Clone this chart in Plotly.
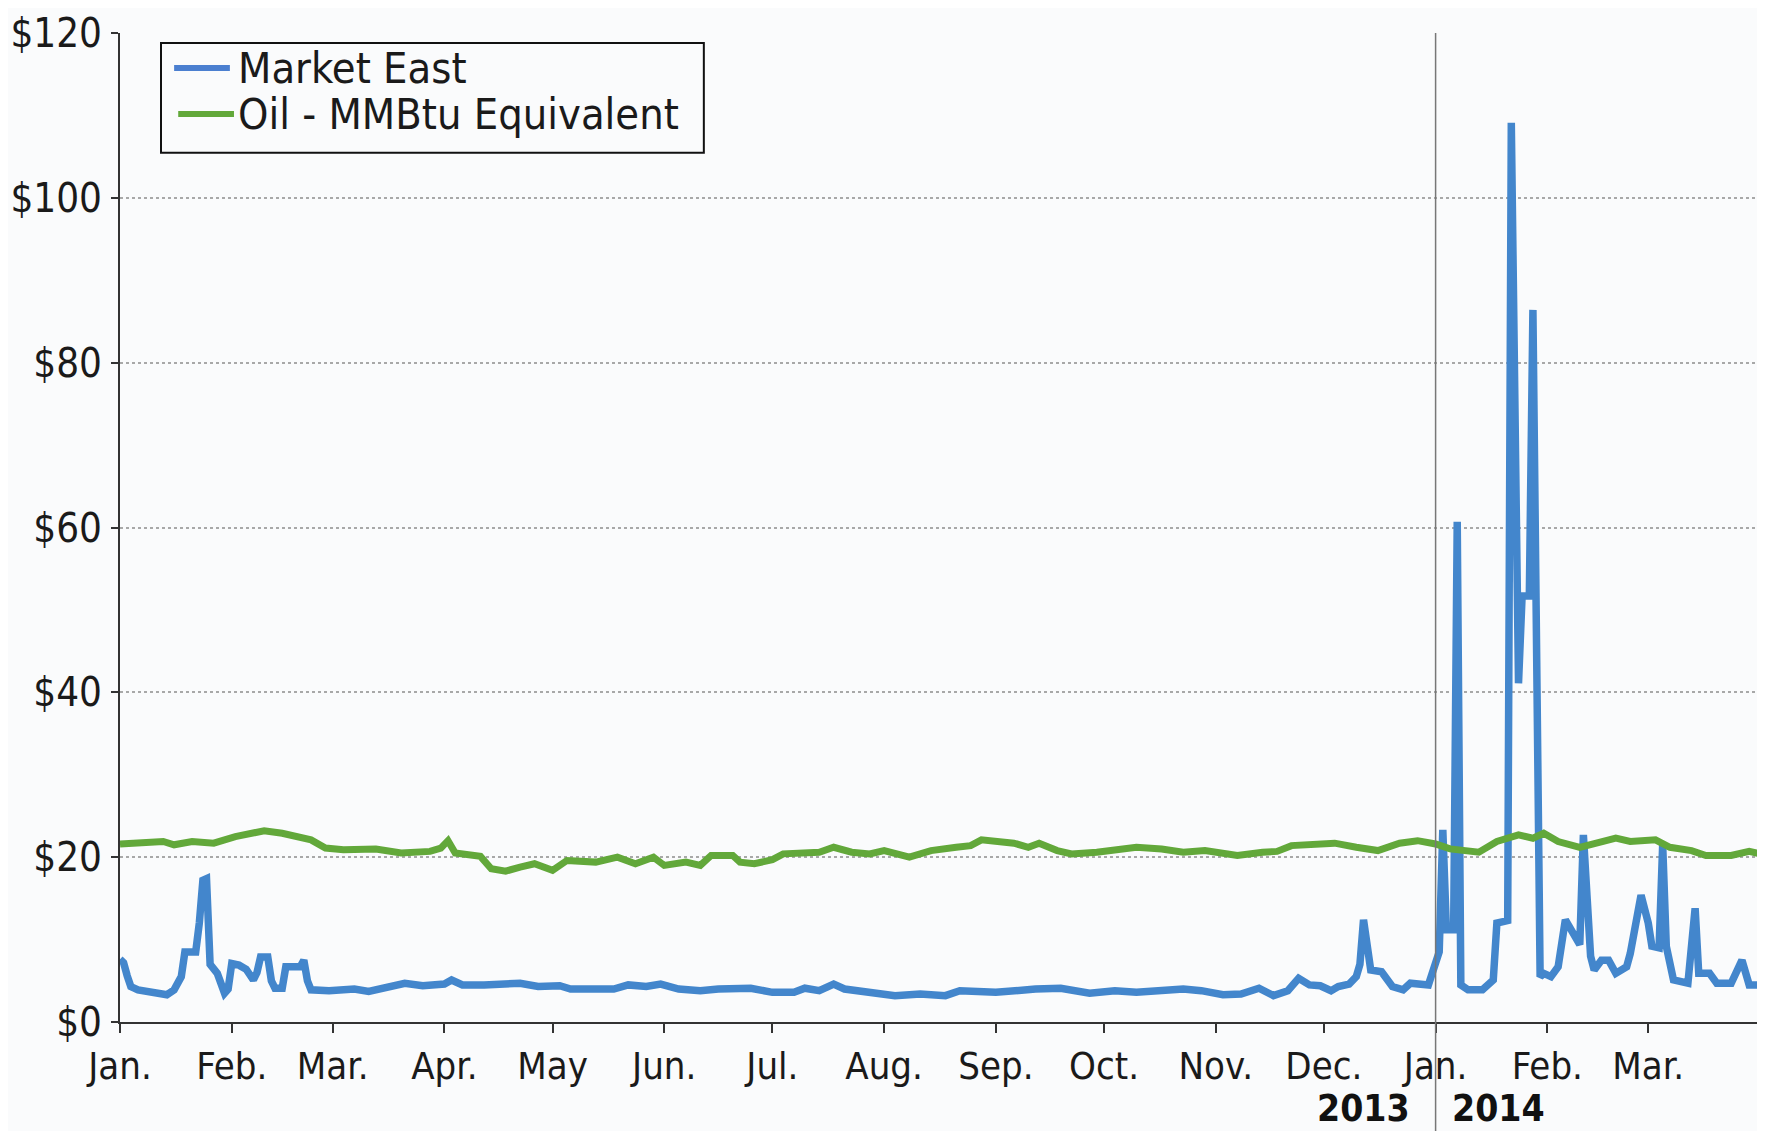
import plotly.graph_objects as go

# Market East daily price ($/MMBtu)
east_dates = [
    "2013-01-01", "2013-01-02", "2013-01-03", "2013-01-04", "2013-01-06", "2013-01-09",
    "2013-01-12", "2013-01-14", "2013-01-16", "2013-01-18", "2013-01-19", "2013-01-22",
    "2013-01-23", "2013-01-24", "2013-01-25", "2013-01-26", "2013-01-28", "2013-01-29",
    "2013-01-30", "2013-01-31", "2013-02-01", "2013-02-03", "2013-02-05", "2013-02-07",
    "2013-02-08", "2013-02-09", "2013-02-11", "2013-02-12", "2013-02-13", "2013-02-15",
    "2013-02-16", "2013-02-20", "2013-02-21", "2013-02-22", "2013-02-23", "2013-02-28",
    "2013-03-04", "2013-03-07", "2013-03-11", "2013-03-16", "2013-03-21", "2013-03-26",
    "2013-04-01", "2013-04-03", "2013-04-06", "2013-04-12", "2013-04-19", "2013-04-22",
    "2013-04-27", "2013-05-03", "2013-05-06", "2013-05-18", "2013-05-22", "2013-05-27",
    "2013-05-31", "2013-06-05", "2013-06-11", "2013-06-16", "2013-06-25", "2013-07-01",
    "2013-07-07", "2013-07-10", "2013-07-14", "2013-07-18", "2013-07-21", "2013-07-28",
    "2013-08-04", "2013-08-11", "2013-08-18", "2013-08-22", "2013-09-01", "2013-09-12",
    "2013-09-19", "2013-09-27", "2013-10-04", "2013-10-10", "2013-10-17", "2013-10-23",
    "2013-10-28", "2013-11-03", "2013-11-08", "2013-11-13", "2013-11-17", "2013-11-21",
    "2013-11-24", "2013-11-27", "2013-11-30", "2013-12-03", "2013-12-05", "2013-12-08",
    "2013-12-10", "2013-12-11", "2013-12-12", "2013-12-13", "2013-12-14", "2013-12-17",
    "2013-12-20", "2013-12-23", "2013-12-25", "2013-12-30", "2014-01-01", "2014-01-02",
    "2014-01-03", "2014-01-04", "2014-01-05", "2014-01-06", "2014-01-07", "2014-01-08",
    "2014-01-10", "2014-01-14", "2014-01-17", "2014-01-18", "2014-01-21", "2014-01-22",
    "2014-01-24", "2014-01-25", "2014-01-27", "2014-01-28", "2014-01-30", "2014-01-31",
    "2014-02-02", "2014-02-04", "2014-02-06", "2014-02-08", "2014-02-10", "2014-02-11",
    "2014-02-13", "2014-02-14", "2014-02-16", "2014-02-18", "2014-02-20", "2014-02-23",
    "2014-02-24", "2014-02-27", "2014-03-01", "2014-03-02", "2014-03-04", "2014-03-05",
    "2014-03-06", "2014-03-08", "2014-03-12", "2014-03-14", "2014-03-15", "2014-03-18",
    "2014-03-20", "2014-03-24", "2014-03-27", "2014-03-29", "2014-04-01",
]
east_values = [
    7.6, 7.2, 5.6, 4.3, 3.9, 3.7,
    3.3, 3.3, 3.9, 5.5, 8.5, 8.5,
    12.0, 17.2, 17.4, 7.0, 5.9, 4.5,
    3.5, 4.0, 7.1, 6.9, 6.4, 5.1,
    6.0, 7.9, 7.9, 5.0, 4.1, 4.1,
    6.7, 6.7, 7.5, 5.0, 3.9, 3.8,
    3.8, 4.0, 3.7, 4.1, 4.7, 4.4,
    4.6, 5.1, 4.5, 4.5, 4.6, 4.7,
    4.3, 4.4, 4.0, 4.0, 4.5, 4.3,
    4.6, 4.0, 3.8, 4.0, 4.1, 3.6,
    3.6, 4.1, 3.8, 4.6, 4.0, 3.6,
    3.2, 3.4, 3.2, 3.8, 3.6, 4.0,
    4.1, 3.5, 3.8, 3.6, 3.8, 4.0,
    3.8, 3.3, 3.4, 4.1, 3.2, 3.8,
    5.3, 4.5, 4.4, 3.8, 4.3, 4.6,
    5.5, 7.0, 12.4, 9.2, 6.3, 6.1,
    4.3, 3.9, 4.7, 4.5, 7.5, 8.5,
    23.3, 11.2, 11.2, 11.2, 60.7, 4.5,
    3.9, 3.9, 5.1, 12.0, 12.3, 109.1,
    41.1, 51.7, 51.7, 86.4, 5.5, 5.9,
    5.5, 6.7, 12.4, 10.8, 9.4, 22.7,
    8.0, 6.3, 7.5, 7.5, 5.9, 6.7,
    8.3, 15.4, 12.0, 9.2, 9.0, 21.5,
    9.2, 5.1, 4.7, 13.8, 5.9, 5.9,
    4.7, 4.7, 7.5, 4.5, 4.5,
]

# Oil price expressed per MMBtu
oil_dates = [
    "2013-01-01", "2013-01-07", "2013-01-13", "2013-01-16", "2013-01-21", "2013-01-27",
    "2013-02-02", "2013-02-10", "2013-02-15", "2013-02-23", "2013-02-27", "2013-03-04",
    "2013-03-13", "2013-03-20", "2013-03-28", "2013-03-31", "2013-04-02", "2013-04-04",
    "2013-04-08", "2013-04-11", "2013-04-14", "2013-04-18", "2013-04-22", "2013-04-26",
    "2013-05-01", "2013-05-05", "2013-05-13", "2013-05-19", "2013-05-24", "2013-05-29",
    "2013-06-01", "2013-06-07", "2013-06-11", "2013-06-14", "2013-06-20", "2013-06-22",
    "2013-06-26", "2013-07-01", "2013-07-04", "2013-07-14", "2013-07-18", "2013-07-23",
    "2013-07-28", "2013-08-01", "2013-08-08", "2013-08-14", "2013-08-21", "2013-08-25",
    "2013-08-28", "2013-09-06", "2013-09-10", "2013-09-13", "2013-09-18", "2013-09-22",
    "2013-09-29", "2013-10-02", "2013-10-10", "2013-10-17", "2013-10-23", "2013-10-29",
    "2013-11-02", "2013-11-07", "2013-11-14", "2013-11-18", "2013-11-22", "2013-11-28",
    "2013-12-04", "2013-12-10", "2013-12-16", "2013-12-22", "2013-12-27", "2014-01-01",
    "2014-01-05", "2014-01-13", "2014-01-18", "2014-01-24", "2014-01-28", "2014-01-31",
    "2014-02-04", "2014-02-10", "2014-02-15", "2014-02-20", "2014-02-24", "2014-03-03",
    "2014-03-07", "2014-03-13", "2014-03-17", "2014-03-24", "2014-03-29", "2014-04-01",
]
oil_values = [
    21.6, 21.7, 21.9, 21.5, 21.9, 21.7,
    22.5, 23.2, 22.9, 22.1, 21.1, 20.9,
    21.0, 20.5, 20.7, 21.1, 22.0, 20.5,
    20.3, 20.1, 18.6, 18.3, 18.8, 19.2,
    18.4, 19.6, 19.4, 20.0, 19.2, 20.0,
    19.0, 19.4, 19.0, 20.2, 20.2, 19.4,
    19.2, 19.7, 20.4, 20.6, 21.2, 20.6,
    20.4, 20.8, 20.0, 20.8, 21.2, 21.4,
    22.1, 21.7, 21.2, 21.7, 20.8, 20.4,
    20.6, 20.8, 21.2, 21.0, 20.6, 20.8,
    20.5, 20.2, 20.6, 20.7, 21.4, 21.6,
    21.7, 21.2, 20.8, 21.7, 22.0, 21.6,
    21.0, 20.6, 21.9, 22.7, 22.3, 22.9,
    21.9, 21.2, 21.7, 22.3, 21.9, 22.1,
    21.2, 20.8, 20.2, 20.2, 20.7, 20.4,
]

month_ticks = [
    "2013-01-01", "2013-02-01", "2013-03-01", "2013-04-01", "2013-05-01", "2013-06-01",
    "2013-07-01", "2013-08-01", "2013-09-01", "2013-10-01", "2013-11-01", "2013-12-01",
    "2014-01-01", "2014-02-01", "2014-03-01",
]
month_labels = [
    "Jan.", "Feb.", "Mar.", "Apr.", "May", "Jun.", "Jul.", "Aug.", "Sep.", "Oct.",
    "Nov.", "Dec.", "Jan.", "Feb.", "Mar.",
]
price_ticks = [0, 20, 40, 60, 80, 100, 120]
price_labels = ["$0", "$20", "$40", "$60", "$80", "$100", "$120"]

series_names = ["Market East", "Oil - MMBtu Equivalent"]

FONT = "DejaVu Sans Condensed, DejaVu Sans, sans-serif"
BLUE = "#4386cc"
GREEN = "#62a83a"
TEXT = "#1a1a1a"

fig = go.Figure()
fig.add_trace(go.Scatter(
    x=east_dates, y=east_values, name=series_names[0], mode="lines",
    line=dict(color=BLUE, width=7.5),
))
fig.add_trace(go.Scatter(
    x=oil_dates, y=oil_values, name=series_names[1], mode="lines",
    line=dict(color=GREEN, width=7),
))

# hand-made legend box so the row spacing can be kept tight
fig.add_shape(type="rect", xref="paper", yref="paper",
              x0=0.025, x1=0.356, y0=0.879, y1=0.990,
              line=dict(color="#111111", width=2), fillcolor="rgba(0,0,0,0)")
for name, color, ly, lx0 in [(series_names[0], "#4b7fd0", 0.9646, 0.033),
                             (series_names[1], GREEN, 0.9181, 0.0355)]:
    fig.add_shape(type="line", xref="paper", yref="paper",
                  x0=lx0, x1=lx0 + 0.034, y0=ly, y1=ly,
                  line=dict(color=color, width=6))
    fig.add_annotation(x=0.0705, y=ly, xref="paper", yref="paper",
                       xanchor="left", yanchor="middle", text=name, showarrow=False,
                       font=dict(family=FONT, size=43, color=TEXT))

# year divider
fig.add_shape(
    type="line", xref="x", yref="paper",
    x0="2014-01-01", x1="2014-01-01", y0=-0.115, y1=1,
    line=dict(color="#777777", width=1.5),
)
fig.add_annotation(
    x="2014-01-01", xref="x", y=-0.087, yref="paper", yanchor="middle",
    text="<b>2013</b>", showarrow=False, xanchor="right", xshift=-24,
    font=dict(family=FONT, size=37, color="#111111"),
)
fig.add_annotation(
    x="2014-01-01", xref="x", y=-0.087, yref="paper", yanchor="middle",
    text="<b>2014</b>", showarrow=False, xanchor="left", xshift=14,
    font=dict(family=FONT, size=37, color="#111111"),
)

# the page body adds an 8px offset, so the figure is sized to end at the window edge
fig.update_layout(
    width=1757, height=1123,
    margin=dict(l=112, r=5, t=25, b=109),
    paper_bgcolor="#fafbfc", plot_bgcolor="#fafbfc",
    font=dict(family=FONT, color=TEXT),
    showlegend=False,
    xaxis=dict(
        type="date", range=["2013-01-01", "2014-04-01"], automargin=False,
        tickvals=month_ticks, ticktext=month_labels,
        tickfont=dict(size=38), ticks="outside", ticklen=9, tickwidth=1.5,
        tickcolor="#333333", showline=True, linecolor="#333333", linewidth=2,
        showgrid=False, zeroline=False, ticklabelstandoff=0,
    ),
    yaxis=dict(
        range=[0, 120], tickvals=price_ticks, ticktext=price_labels, automargin=False,
        tickfont=dict(size=40), ticks="outside", ticklen=7, tickwidth=1.5,
        tickcolor="#333333", showline=True, linecolor="#333333", linewidth=2,
        showgrid=True, gridcolor="#a8a8a8", gridwidth=1.5, griddash="dot",
        zeroline=False, ticklabelstandoff=1,
    ),
)

fig.write_html("out.html")
